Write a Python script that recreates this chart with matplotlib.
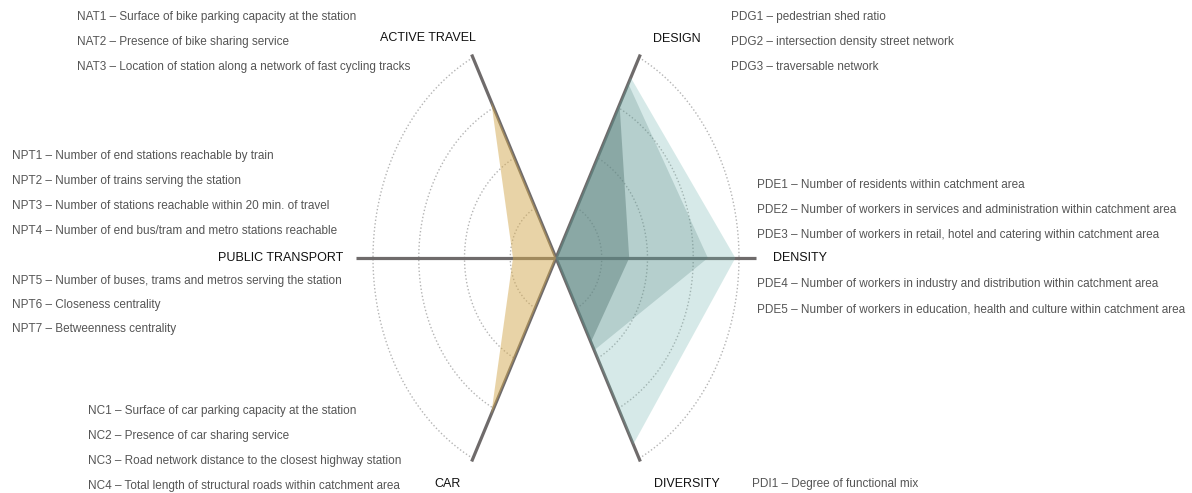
import numpy as np
import matplotlib
matplotlib.use("Agg")
import matplotlib.pyplot as plt

plt.rcParams['font.family'] = ['Liberation Sans', 'DejaVu Sans']

# axes of the diagram (angle in degrees, counter-clockwise from east)
axis_names = ['DENSITY', 'DESIGN', 'ACTIVE TRAVEL', 'PUBLIC TRANSPORT', 'CAR', 'DIVERSITY']
axis_angles = [0, 63, 117, 180, 243, 297]
axis_lengths = [1.093, 1.015, 1.015, 1.093, 1.015, 1.015]

# node side (orange): active travel, public transport, car
node_axes = ['ACTIVE TRAVEL', 'PUBLIC TRANSPORT', 'CAR']
node_values = [0.78, 0.235, 0.78]

# place side (teal layers): design, density, diversity
place_axes = ['DESIGN', 'DENSITY', 'DIVERSITY']
place_light = [0.90, 0.98, 0.93]
place_mid = [0.87, 0.83, 0.46]
place_dark = [0.765, 0.40, 0.42]

rings = [0.25, 0.5, 0.75, 1.0]

nat_labels = ['NAT1 – Surface of bike parking capacity at the station',
              'NAT2 – Presence of bike sharing service',
              'NAT3 – Location of station along a network of fast cycling tracks']
pdg_labels = ['PDG1 – pedestrian shed ratio',
              'PDG2 – intersection density street network',
              'PDG3 – traversable network']
npt_labels_top = ['NPT1 – Number of end stations reachable by train',
                  'NPT2 – Number of trains serving the station',
                  'NPT3 – Number of stations reachable within 20 min. of travel',
                  'NPT4 – Number of end bus/tram and metro stations reachable']
npt_labels_bottom = ['NPT5 – Number of buses, trams and metros serving the station',
                     'NPT6 – Closeness centrality',
                     'NPT7 – Betweenness centrality']
pde_labels_top = ['PDE1 – Number of residents within catchment area',
                  'PDE2 – Number of workers in services and administration within catchment area',
                  'PDE3 – Number of workers in retail, hotel and catering within catchment area']
pde_labels_bottom = ['PDE4 – Number of workers in industry and distribution within catchment area',
                     'PDE5 – Number of workers in education, health and culture within catchment area']
nc_labels = ['NC1 – Surface of car parking capacity at the station',
             'NC2 – Presence of car sharing service',
             'NC3 – Road network distance to the closest highway station',
             'NC4 – Total length of structural roads within catchment area']
pdi_labels = ['PDI1 – Degree of functional mix']

# layout (pixel frame)
cx, cy = 556, 258
sx, sy = 183, 225


def pt(name, r):
  a = np.deg2rad(axis_angles[axis_names.index(name)])
  return cx + r * sx * np.cos(a), cy - r * sy * np.sin(a)


fig = plt.figure(figsize=(11.92, 4.93), dpi=100)
ax = fig.add_axes([0, 0, 1, 1])
ax.set_xlim(0, 1192)
ax.set_ylim(493, 0)
ax.axis('off')

renderer = fig.canvas.get_renderer()


def fit_size(s, target_px, base=10.0):
  # pick a font size so that s is about target_px wide
  t = fig.text(0, 0, s, fontsize=base)
  w = t.get_window_extent(renderer).width
  t.remove()
  return base * target_px / w


# dotted rings, left and right arcs only
for r in rings:
  for a0, a1 in [(117, 243), (-63, 63)]:
    t = np.deg2rad(np.linspace(a0, a1, 200))
    ax.plot(cx + r * sx * np.cos(t), cy - r * sy * np.sin(t), color='#b4b4b4',
            lw=1.0, ls=(0, (1, 1.6)), zorder=1)

# axis lines
for name, L in zip(axis_names, axis_lengths):
  x1, y1 = pt(name, L)
  ax.plot([cx, x1], [cy, y1], color='#6f6b6b', lw=2.3, solid_capstyle='butt', zorder=2)

# node polygon
xs, ys = [cx], [cy]
for name, v in zip(node_axes, node_values):
  x, y = pt(name, v)
  xs.append(x); ys.append(y)
ax.fill(xs, ys, color=(211/255, 169/255, 81/255), alpha=0.5, lw=0, zorder=3)

# place polygons
for vals, col, al in [(place_light, '#6fb3ad', 0.28),
                      (place_mid, '#4d7d79', 0.24),
                      (place_dark, '#5f807d', 0.49)]:
  xs, ys = [cx], [cy]
  for name, v in zip(place_axes, vals):
    x, y = pt(name, v)
    xs.append(x); ys.append(y)
  ax.fill(xs, ys, color=col, alpha=al, lw=0, zorder=3)

desc_size = fit_size(nat_labels[0], 281)
cat_size = fit_size('PUBLIC TRANSPORT', 125)
desc = dict(color='#555555', fontsize=desc_size, va='center')
cat = dict(color='#111111', fontsize=cat_size, va='center')

for i, s in enumerate(nat_labels):
  ax.text(77, 17 + 25 * i, s, ha='left', **desc)
ax.text(476, 38, 'ACTIVE TRAVEL', ha='right', **cat)

ax.text(653, 39, 'DESIGN', ha='left', **cat)
for i, s in enumerate(pdg_labels):
  ax.text(731, 17 + 25 * i, s, ha='left', **desc)

for i, s in enumerate(npt_labels_top):
  ax.text(12, 156 + 25 * i, s, ha='left', **desc)
ax.text(343, 258, 'PUBLIC TRANSPORT', ha='right', **cat)
for i, s in enumerate(npt_labels_bottom):
  ax.text(12, 281 + 24 * i, s, ha='left', **desc)

for i, s in enumerate(pde_labels_top):
  ax.text(757, 185 + 25 * i, s, ha='left', **desc)
ax.text(773, 258, 'DENSITY', ha='left', **cat)
for i, s in enumerate(pde_labels_bottom):
  ax.text(757, 284 + 25 * i, s, ha='left', **desc)

for i, s in enumerate(nc_labels):
  ax.text(88, 411 + 25 * i, s, ha='left', **desc)
ax.text(434, 484, 'CAR', ha='left', **cat)
ax.text(654, 484, 'DIVERSITY', ha='left', **cat)
ax.text(752, 484, pdi_labels[0], ha='left', **desc)

fig.savefig('out.png', dpi=100)
